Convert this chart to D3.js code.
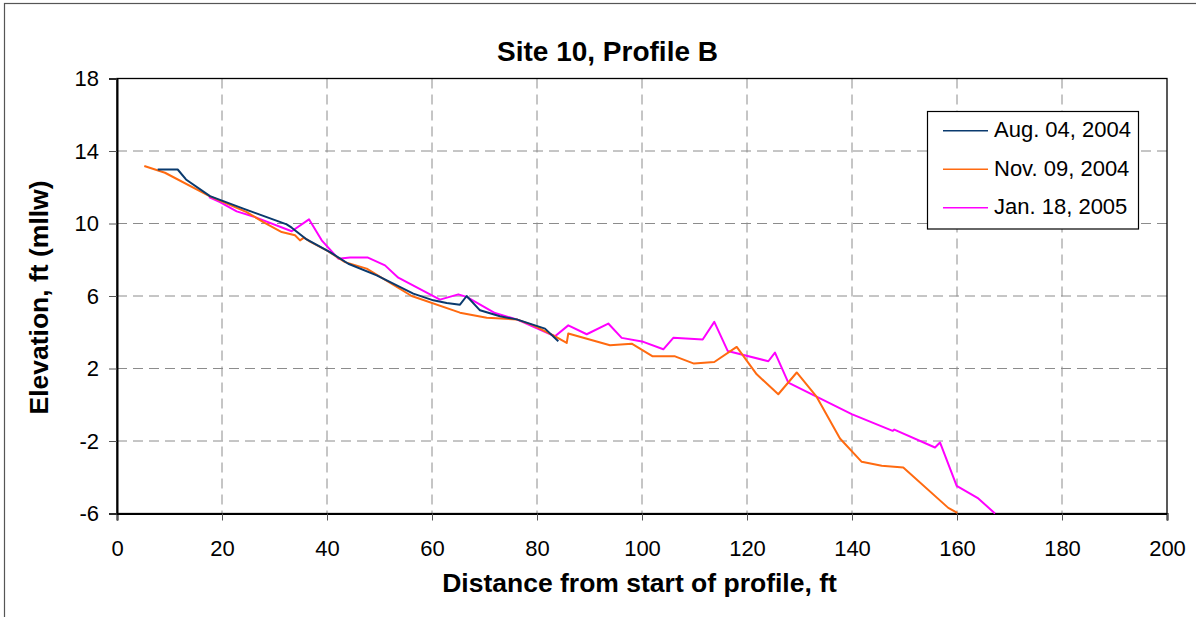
<!DOCTYPE html>
<html>
<head>
<meta charset="utf-8">
<script src="https://d3js.org/d3.v7.min.js"></script>
<style>
  body { margin: 0; background: #fff; }
  text { font-family: 'Liberation Sans', Arial, sans-serif; fill: #000; }
</style>
</head>
<body>
<div id="chart"></div>
<script>
// data: [distance ft, elevation ft]
var aug04 = [[7.75,12.98],[11.56,12.98],[13.14,12.43],[17.71,11.51],[24.06,10.82],[32.32,9.95],
  [33.28,9.77],[36.13,9.12],[40.57,8.42],[44.06,7.78],[49.47,7.14],[56.44,6.13],[60.25,5.76],
  [62.8,5.61],[65.33,5.52],[66.6,6.0],[69.14,5.21],[72.95,4.88],[76.13,4.71],[81.52,4.2],[84.06,3.5]]
var nov09 = [[5.2,13.17],[9.14,12.8],[17.71,11.5],[24.7,10.63],[27.87,10.08],[31.37,9.53],[33.9,9.35],
  [34.86,9.07],[35.62,9.22],[36.76,9.0],[39.94,8.52],[43.43,7.87],[47.56,7.51],[56.13,6.0],[65.33,5.08],
  [70.42,4.8],[76.13,4.71],[79.3,4.38],[83.1,3.83],[85.66,3.41],[85.96,3.93],[93.9,3.28],[98.04,3.37],
  [102.04,2.67],[106.29,2.67],[109.9,2.27],[113.77,2.36],[118.04,3.19],[121.85,1.68],[125.96,0.58],
  [129.47,1.78],[133.28,0.43],[137.71,-1.86],[141.85,-3.15],[145.66,-3.37],[149.77,-3.46],
  [158.34,-5.69],[160.06,-5.96]]
var jan18 = [[17.52,11.46],[19.62,11.18],[22.8,10.67],[25.96,10.39],[33.28,9.57],[36.57,10.23],
  [38.99,9.07],[42.15,8.06],[44.38,8.12],[47.8,8.12],[51.05,7.69],[53.58,7.01],[61.52,5.8],[65.01,6.09],
  [66.6,5.95],[72.0,5.06],[76.13,4.71],[83.43,3.78],[85.96,4.38],[89.47,3.89],[93.58,4.48],[96.13,3.69],
  [100.25,3.47],[104.06,3.06],[105.96,3.69],[111.56,3.6],[113.77,4.57],[116.32,2.97],[124.06,2.4],
  [125.33,2.88],[127.87,1.22],[139.94,-0.52],[147.75,-1.44],[148.06,-1.37],[155.81,-2.36],
  [156.76,-2.08],[159.94,-4.47],[164.06,-5.17],[167.24,-6.0]]
var seriesNames = ['Aug. 04, 2004', 'Nov. 09, 2004', 'Jan. 18, 2005']
var seriesColors = ['#0a3a6e', '#ff6a10', '#ff00ff']
var xTicks = [0, 20, 40, 60, 80, 100, 120, 140, 160, 180, 200]
var yTicks = [-6, -2, 2, 6, 10, 14, 18]

var W = 1196, H = 617
var margin = { top: 78.5, right: 29, bottom: 103.5, left: 117 }
var w = W - margin.left - margin.right
var h = H - margin.top - margin.bottom

var svg = d3.select('#chart').append('svg')
    .attr('width', W)
    .attr('height', H)

// outer frame
svg.append('rect')
    .attr('x', 4.5).attr('y', 3.5)
    .attr('width', 1200).attr('height', 700)
    .attr('fill', 'none')
    .attr('stroke', '#555')
    .attr('stroke-width', 1.2)

var g = svg.append('g')
    .attr('transform', 'translate(' + margin.left + ',' + margin.top + ')')

var xScale = d3.scaleLinear().domain([0, 200]).range([0, w])
var yScale = d3.scaleLinear().domain([-6, 18]).range([h, 0])

// grid
g.selectAll('.vgrid')
    .data(xTicks.slice(1, -1))
    .enter().append('line')
    .attr('x1', function (d) { return xScale(d) })
    .attr('x2', function (d) { return xScale(d) })
    .attr('y1', 0).attr('y2', h)
    .attr('stroke', '#8c8c8c')
    .attr('stroke-dasharray', '10,6')
g.selectAll('.hgrid')
    .data(yTicks.slice(1, -1))
    .enter().append('line')
    .attr('y1', function (d) { return yScale(d) })
    .attr('y2', function (d) { return yScale(d) })
    .attr('x1', 0).attr('x2', w)
    .attr('stroke', '#8c8c8c')
    .attr('stroke-dasharray', '10,6')

// plot border
g.append('rect')
    .attr('width', w).attr('height', h)
    .attr('fill', 'none')
    .attr('stroke', '#000')
    .attr('stroke-width', 1.3)

// axes (plain hyphen for negatives, like the original)
var fmt = function (d) { return String(d) }
var xAxis = d3.axisBottom(xScale).tickValues(xTicks).tickFormat(fmt).tickSize(7).tickPadding(20)
var yAxis = d3.axisLeft(yScale).tickValues(yTicks).tickFormat(fmt).tickSize(8).tickPadding(10)
var xg = g.append('g')
    .attr('transform', 'translate(0,' + h + ')')
    .call(xAxis)
var yg = g.append('g').call(yAxis)
xg.select('.domain').attr('stroke', '#000').attr('stroke-width', 2)
yg.select('.domain').attr('stroke', '#000').attr('stroke-width', 2)
g.selectAll('.tick line').attr('stroke', '#555')
g.selectAll('.tick text')
    .style('font-family', "'Liberation Sans', Arial, sans-serif")
    .style('font-size', '22px')
    .attr('fill', '#000')

// lines
var line = d3.line()
    .x(function (d) { return xScale(d[0]) })
    .y(function (d) { return yScale(d[1]) })
var allSeries = [aug04, nov09, jan18]
g.selectAll('.series')
    .data([jan18, nov09, aug04])
    .enter().append('path')
    .attr('d', line)
    .attr('fill', 'none')
    .attr('stroke', function (d) { return seriesColors[allSeries.indexOf(d)] })
    .attr('stroke-width', 2)
    .attr('stroke-linejoin', 'round')

// title and axis labels
svg.append('text')
    .attr('x', 607.5).attr('y', 60.5)
    .attr('text-anchor', 'middle')
    .style('font-size', '28px')
    .style('font-weight', 'bold')
    .text('Site 10, Profile B')
svg.append('text')
    .attr('x', 639.5).attr('y', 591.5)
    .attr('text-anchor', 'middle')
    .style('font-size', '26.5px')
    .style('font-weight', 'bold')
    .text('Distance from start of profile, ft')
svg.append('text')
    .attr('transform', 'translate(47.5,297.5) rotate(-90)')
    .attr('text-anchor', 'middle')
    .style('font-size', '26.5px')
    .style('font-weight', 'bold')
    .text('Elevation, ft (mllw)')

// legend
var legend = svg.append('g')
legend.append('rect')
    .attr('x', 927.5).attr('y', 111.5)
    .attr('width', 211).attr('height', 117.5)
    .attr('fill', '#fff')
    .attr('stroke', '#000')
    .attr('stroke-width', 1.2)
var items = legend.selectAll('.item')
    .data(seriesNames)
    .enter().append('g')
    .attr('transform', function (d, i) { return 'translate(0,' + (130.7 + i * 38.5) + ')' })
items.append('line')
    .attr('x1', 943).attr('x2', 988)
    .attr('stroke', function (d, i) { return seriesColors[i] })
    .attr('stroke-width', 1.4)
items.append('text')
    .attr('x', 994).attr('y', 6.5)
    .style('font-size', '22px')
    .text(function (d) { return d })
</script>
</body>
</html>
